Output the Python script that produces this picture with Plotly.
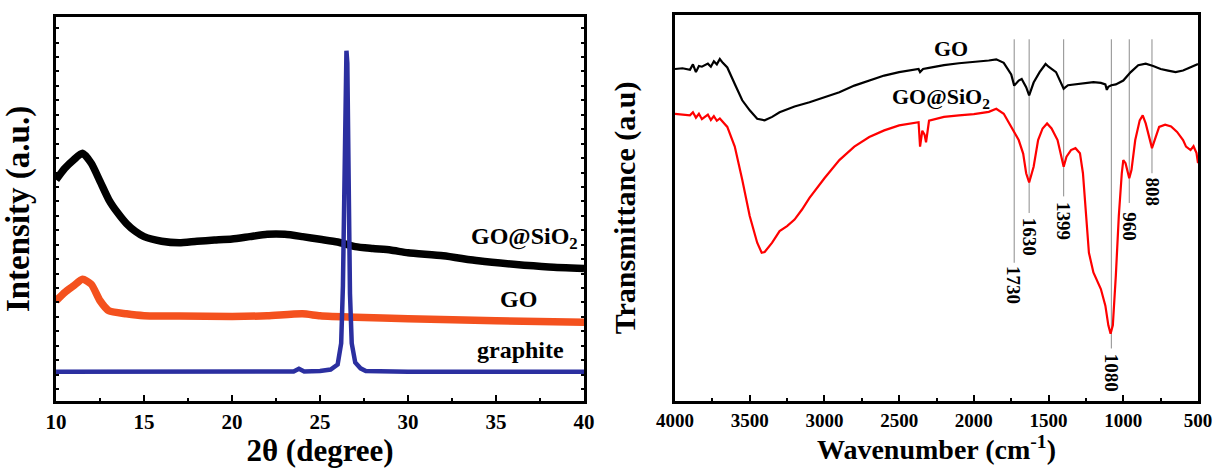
import plotly.graph_objects as go

# ---------------- XRD (left) ----------------
xrd_x_gosio2 = [10, 10.5, 11, 11.5, 12, 12.5, 13, 13.5, 14, 14.5, 15, 16, 17, 18, 19, 20, 21, 22, 23, 24,
                25, 26, 27, 28, 29, 30, 32, 34, 36, 38, 40]
xrd_y_gosio2 = [0.576, 0.606, 0.628, 0.645, 0.619, 0.572, 0.524, 0.49, 0.462, 0.442, 0.428, 0.416, 0.412,
                0.416, 0.419, 0.422, 0.428, 0.434, 0.434, 0.428, 0.421, 0.414, 0.402, 0.397, 0.393, 0.386,
                0.378, 0.365, 0.356, 0.349, 0.345]

xrd_x_go = [10, 10.5, 11, 11.5, 12, 12.5, 13, 14, 15, 17, 20, 22, 24, 25, 27, 30, 35, 40]
xrd_y_go = [0.261, 0.283, 0.300, 0.317, 0.304, 0.261, 0.235, 0.227, 0.222, 0.221, 0.220, 0.222, 0.227,
            0.222, 0.218, 0.214, 0.209, 0.205]

xrd_x_graphite = [10, 15, 20, 23.5, 23.8, 24.1, 25, 25.6, 26.0, 26.2, 26.3, 26.38, 26.45, 26.5, 26.55,
                  26.62, 26.7, 26.8, 27.0, 27.3, 27.6, 30, 35, 40]
xrd_y_graphite = [0.076, 0.076, 0.076, 0.077, 0.084, 0.077, 0.078, 0.082, 0.095, 0.15, 0.30, 0.60, 0.90,
                  0.912, 0.88, 0.55, 0.28, 0.15, 0.10, 0.085, 0.078, 0.076, 0.076, 0.076]

# ---------------- FTIR (right) ----------------
ir_x_go = [4000, 3950, 3900, 3880, 3860, 3840, 3820, 3800, 3780, 3760, 3740, 3720, 3700, 3680, 3650,
           3600, 3550, 3500, 3450, 3400, 3350, 3300, 3200, 3100, 3000, 2900, 2800, 2700, 2600, 2500,
           2400, 2370, 2360, 2340, 2300, 2200, 2100, 2000, 1900, 1850, 1800, 1750, 1730, 1700, 1680,
           1650, 1630, 1600, 1560, 1520, 1500, 1450, 1420, 1399, 1370, 1300, 1200, 1150, 1120, 1110,
           1100, 1080, 1050, 1000, 950, 900, 850, 800, 750, 700, 650, 600, 550, 500]
ir_y_go = [0.860, 0.862, 0.858, 0.872, 0.852, 0.868, 0.866, 0.869, 0.874, 0.866, 0.880, 0.872, 0.886,
           0.876, 0.864, 0.821, 0.779, 0.753, 0.731, 0.727, 0.736, 0.748, 0.763, 0.774, 0.786, 0.800,
           0.817, 0.830, 0.843, 0.852, 0.858, 0.860, 0.852, 0.860, 0.863, 0.870, 0.875, 0.878, 0.882,
           0.885, 0.876, 0.846, 0.817, 0.830, 0.834, 0.813, 0.792, 0.825, 0.852, 0.873, 0.866, 0.852,
           0.826, 0.809, 0.818, 0.822, 0.826, 0.824, 0.820, 0.806, 0.814, 0.818, 0.820, 0.830, 0.852,
           0.870, 0.874, 0.868, 0.860, 0.856, 0.852, 0.856, 0.864, 0.873]

ir_x_gosio2 = [4000, 3950, 3900, 3880, 3860, 3840, 3820, 3800, 3780, 3760, 3740, 3720, 3700, 3650, 3600,
               3550, 3500, 3450, 3420, 3400, 3350, 3300, 3250, 3200, 3150, 3100, 3000, 2900, 2800, 2700,
               2600, 2500, 2400, 2370, 2360, 2345, 2330, 2320, 2300, 2200, 2100, 2000, 1900, 1850, 1800,
               1750, 1720, 1700, 1670, 1650, 1630, 1600, 1570, 1540, 1510, 1480, 1440, 1420, 1399, 1380,
               1350, 1320, 1290, 1270, 1250, 1230, 1200, 1150, 1120, 1100, 1085, 1070, 1050, 1030, 1010,
               1000, 985, 970, 960, 945, 920, 890, 870, 850, 820, 808, 790, 760, 720, 680, 640, 600, 580,
               550, 530, 510, 500]
ir_y_gosio2 = [0.744, 0.742, 0.740, 0.748, 0.734, 0.744, 0.730, 0.736, 0.742, 0.728, 0.738, 0.726, 0.732,
               0.710, 0.659, 0.573, 0.479, 0.410, 0.384, 0.386, 0.410, 0.440, 0.453, 0.470, 0.496, 0.526,
               0.577, 0.624, 0.659, 0.684, 0.701, 0.714, 0.720, 0.722, 0.659, 0.700, 0.690, 0.670, 0.726,
               0.736, 0.740, 0.743, 0.749, 0.757, 0.744, 0.710, 0.689, 0.676, 0.641, 0.590, 0.566, 0.607,
               0.676, 0.706, 0.719, 0.706, 0.676, 0.646, 0.607, 0.633, 0.650, 0.655, 0.642, 0.590, 0.479,
               0.384, 0.333, 0.290, 0.247, 0.196, 0.174, 0.196, 0.324, 0.479, 0.590, 0.624, 0.616, 0.590,
               0.577, 0.599, 0.676, 0.727, 0.740, 0.719, 0.676, 0.655, 0.676, 0.710, 0.716, 0.711, 0.697,
               0.676, 0.659, 0.650, 0.660, 0.642, 0.616]

peak_positions = [1730, 1630, 1399, 1080, 960, 808]
peak_line_bottom = [0.358, 0.487, 0.530, 0.136, 0.513, 0.590]
peak_label_y = [0.300, 0.425, 0.467, 0.072, 0.452, 0.540]
peak_labels = ["1730", "1630", "1399", "1080", "960", "808"]

FONT = "Liberation Serif"

fig = go.Figure()
fig.add_trace(go.Scatter(x=xrd_x_gosio2, y=xrd_y_gosio2, mode="lines",
                         line=dict(color="#000000", width=7.5, shape="spline", smoothing=0.6),
                         xaxis="x", yaxis="y", showlegend=False, name="GO@SiO2"))
fig.add_trace(go.Scatter(x=xrd_x_go, y=xrd_y_go, mode="lines",
                         line=dict(color="#F4511E", width=7.5, shape="spline", smoothing=0.6),
                         xaxis="x", yaxis="y", showlegend=False, name="GO"))
fig.add_trace(go.Scatter(x=xrd_x_graphite, y=xrd_y_graphite, mode="lines",
                         line=dict(color="#2B2FA0", width=4.5),
                         xaxis="x", yaxis="y", showlegend=False, name="graphite"))

fig.add_trace(go.Scatter(x=ir_x_go, y=ir_y_go, mode="lines", line=dict(color="#000000", width=2.2),
                         xaxis="x2", yaxis="y2", showlegend=False, name="GO"))
fig.add_trace(go.Scatter(x=ir_x_gosio2, y=ir_y_gosio2, mode="lines", line=dict(color="#FF0000", width=2.2),
                         xaxis="x2", yaxis="y2", showlegend=False, name="GO@SiO2"))

for px, yb in zip(peak_positions, peak_line_bottom):
    fig.add_shape(type="line", xref="x2", yref="y2", x0=px, x1=px, y0=yb, y1=0.937,
                  line=dict(color="#8c8c8c", width=1), layer="below")

for px, ly, lab in zip(peak_positions, peak_label_y, peak_labels):
    fig.add_annotation(x=px, y=ly, xref="x2", yref="y2", text="<b>" + lab + "</b>", showarrow=False,
                       textangle=90, font=dict(family=FONT, size=19, color="black"))

# curve labels
fig.add_annotation(x=36.6, y=0.425, xref="x", yref="y", text="<b>GO@SiO<sub>2</sub></b>", showarrow=False,
                   font=dict(family=FONT, size=24, color="black"))
fig.add_annotation(x=36.3, y=0.265, xref="x", yref="y", text="<b>GO</b>", showarrow=False,
                   font=dict(family=FONT, size=24, color="black"))
fig.add_annotation(x=36.4, y=0.132, xref="x", yref="y", text="<b>graphite</b>", showarrow=False,
                   font=dict(family=FONT, size=24, color="black"))
fig.add_annotation(x=2155, y=0.912, xref="x2", yref="y2", text="<b>GO</b>", showarrow=False,
                   font=dict(family=FONT, size=22, color="black"))
fig.add_annotation(x=2220, y=0.785, xref="x2", yref="y2", text="<b>GO@SiO<sub>2</sub></b>", showarrow=False,
                   font=dict(family=FONT, size=22, color="black"))

axis_common = dict(showline=True, linecolor="black", linewidth=2.5, showgrid=False, zeroline=False,
                   tickcolor="black", tickwidth=2, automargin=False)

fig.update_layout(
    width=1216, height=468, margin=dict(l=0, r=0, t=0, b=0),
    paper_bgcolor="white", plot_bgcolor="white",
    font=dict(family=FONT, color="black"),
    xaxis=dict(domain=[0.0461, 0.4803], range=[10, 40], anchor="y", mirror=True, ticks="inside",
               tickmode="linear", tick0=10, dtick=5, ticklen=6,
               minor=dict(ticks="inside", ticklen=3, dtick=2.5, tickcolor="black", tickwidth=2),
               tickfont=dict(family=FONT, size=21, color="black", weight="bold"),
               title=dict(text="<b>2θ (degree)</b>", font=dict(family=FONT, size=31, color="black"), standoff=6),
               **axis_common),
    yaxis=dict(domain=[0.1432, 0.9637], range=[0, 1], anchor="x", mirror="ticks", ticks="inside",
               tickmode="linear", tick0=0.031, dtick=0.0376, ticklen=3, showticklabels=False,
               title=dict(text="<b>Intensity (a.u.)</b>", font=dict(family=FONT, size=33, color="black"), standoff=18),
               **axis_common),
    xaxis2=dict(domain=[0.5551, 0.9852], range=[4000, 500], anchor="y2", mirror=True, ticks="inside",
                tickmode="linear", tick0=500, dtick=500, ticklen=6,
                minor=dict(ticks="inside", ticklen=3, dtick=250, tickcolor="black", tickwidth=2),
                tickfont=dict(family=FONT, size=19, color="black", weight="bold"),
                title=dict(text="<b>Wavenumber (cm<sup>-1</sup>)</b>", font=dict(family=FONT, size=28, color="black"), standoff=8),
                **axis_common),
    yaxis2=dict(domain=[0.1432, 0.968], range=[0, 1], anchor="x2", mirror=True, ticks="",
                showticklabels=False,
                title=dict(text="<b>Transmittance (a.u)</b>", font=dict(family=FONT, size=30, color="black"), standoff=28),
                **axis_common),
)

fig.write_html("out.html")
